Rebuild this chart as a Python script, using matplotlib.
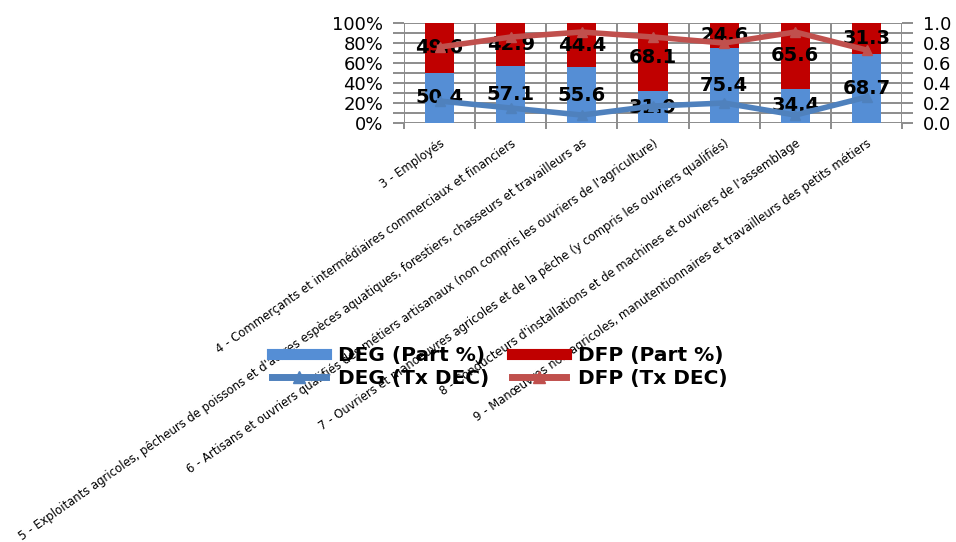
import matplotlib.pyplot as plt
import numpy as np
from matplotlib.lines import Line2D
from matplotlib.ticker import FuncFormatter, MultipleLocator

categories = [
    "3 - Employés",
    "4 - Commerçants et intermédiaires commerciaux et financiers",
    "5 - Exploitants agricoles, pêcheurs de poissons et d'autres espèces aquatiques, forestiers, chasseurs et travailleurs as",
    "6 - Artisans et ouvriers qualifiés des métiers artisanaux (non compris les ouvriers de l'agriculture)",
    "7 - Ouvriers et manoeuvres agricoles et de la pêche (y compris les ouvriers qualifiés)",
    "8 - Conducteurs d'installations et de machines et ouvriers de l'assemblage",
    "9 - Manœuvres non agricoles, manutentionnaires et travailleurs des petits métiers",
]
deg_part = [50.4, 57.1, 55.6, 31.9, 75.4, 34.4, 68.7]
dfp_part = [49.6, 42.9, 44.4, 68.1, 24.6, 65.6, 31.3]
deg_tx = [0.22, 0.15, 0.08, 0.17, 0.20, 0.08, 0.26]
dfp_tx = [0.76, 0.86, 0.91, 0.86, 0.80, 0.91, 0.73]

x = np.arange(len(categories))
grid_col = "#8c8c8c"
deg_bar, dfp_bar = "#558ED5", "#C00000"
deg_line, dfp_line = "#4F81BD", "#C0504D"

fig = plt.figure(figsize=(9.56, 5.42), dpi=100)
ax = fig.add_axes([0.4226, 0.773, 0.521, 0.1845])

deg_share = np.array(deg_part) / 100
dfp_share = np.array(dfp_part) / 100
ax.bar(x, deg_share, width=0.41, color=deg_bar, zorder=2)
ax.bar(x, dfp_share, width=0.41, bottom=deg_share, color=dfp_bar, zorder=2)

ax.set_xlim(-0.5, len(categories) - 0.5)
ax.set_ylim(0, 1)
ax.yaxis.set_major_locator(MultipleLocator(0.2))
ax.yaxis.set_minor_locator(MultipleLocator(0.1))
ax.yaxis.set_major_formatter(FuncFormatter(lambda v, p: f"{v * 100:.0f}%"))
ax.grid(axis="y", which="both", color=grid_col, lw=1.4, zorder=0)
for b in np.arange(-0.5, len(categories), 1.0):
    ax.axvline(b, color=grid_col, lw=1.4, zorder=0)
ax.set_xticks(np.arange(-0.5, len(categories), 1.0), minor=False)
ax.set_xticklabels([])
ax.set_xticks(x, minor=True)
ax.set_xticklabels(categories, minor=True, rotation=35, ha="right",
                   rotation_mode="anchor", fontsize=8.4)
ax.tick_params(axis="x", which="major", length=4, color=grid_col, width=1.4)
ax.tick_params(axis="x", which="minor", length=0, pad=10)
ax.tick_params(axis="y", which="both", length=8, color=grid_col, width=1.4,
               labelsize=13, pad=7)
for s in ax.spines.values():
    s.set_visible(False)

for i in range(len(categories)):
    ax.text(x[i], deg_share[i] / 2, f"{deg_part[i]:.1f}", ha="center", va="center",
            fontsize=14, fontweight="bold", zorder=6)
    ax.text(x[i], deg_share[i] + dfp_share[i] / 2, f"{dfp_part[i]:.1f}", ha="center",
            va="center", fontsize=14, fontweight="bold", zorder=6)

ax2 = ax.twinx()
ax2.plot(x, deg_tx, color=deg_line, lw=4, marker="^", ms=7, zorder=3)
ax2.plot(x, dfp_tx, color=dfp_line, lw=4, marker="^", ms=7, zorder=3)
ax2.set_ylim(0, 1)
ax2.yaxis.set_major_locator(MultipleLocator(0.2))
ax2.yaxis.set_minor_locator(MultipleLocator(0.1))
ax2.yaxis.set_major_formatter(FuncFormatter(lambda v, p: f"{v:.1f}"))
ax2.tick_params(axis="y", which="both", length=8, color=grid_col, width=1.4,
                labelsize=13, pad=7)
for s in ax2.spines.values():
    s.set_visible(False)

handles = [
    Line2D([], [], color=deg_bar, lw=8),
    Line2D([], [], color=deg_line, lw=5, marker="^", ms=8),
    Line2D([], [], color=dfp_bar, lw=8),
    Line2D([], [], color=dfp_line, lw=5, marker="^", ms=8),
]
labels = ["DEG (Part %)", "DEG (Tx DEC)", "DFP (Part %)", "DFP (Tx DEC)"]
fig.legend(handles, labels, ncol=2, loc="center", bbox_to_anchor=(0.523, 0.323),
           frameon=False, prop={"size": 14.5, "weight": "bold"}, handlelength=2.7,
           labelspacing=0.2, columnspacing=1.1, handletextpad=0.6)

fig.savefig("out.png", dpi=100)
